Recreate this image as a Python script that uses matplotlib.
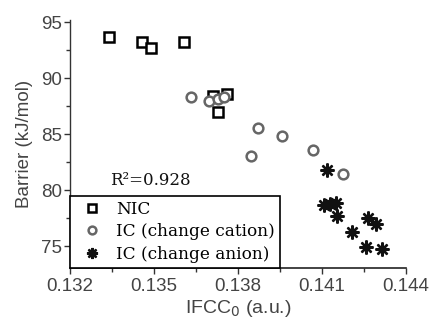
import matplotlib
matplotlib.use("Agg")
import matplotlib.pyplot as plt
from matplotlib.ticker import MultipleLocator

# Data
nic_x = [0.13339, 0.13458, 0.13489, 0.13608, 0.13711, 0.13761, 0.13729]
nic_y = [93.69, 93.19, 92.65, 93.24, 88.39, 88.57, 86.96]

cat_x = [0.13631, 0.13696, 0.13729, 0.13750, 0.13873, 0.13958, 0.13845, 0.14067, 0.14175]
cat_y = [88.28, 87.95, 88.13, 88.30, 85.51, 84.85, 83.04, 83.57, 81.43]

an_x = [0.14117, 0.14107, 0.14129, 0.14150, 0.14152, 0.14206, 0.14265, 0.14293, 0.14257, 0.14313]
an_y = [81.83, 78.66, 78.75, 78.84, 77.68, 76.28, 77.47, 76.96, 74.94, 74.71]

labels = ["NIC", "IC (change cation)", "IC (change anion)"]
x_ticks = [0.132, 0.135, 0.138, 0.141, 0.144]
y_ticks = [75, 80, 85, 90, 95]
r2_text = "R\u00b2=0.928"

fig = plt.figure(figsize=(4.33, 3.2), dpi=100)
ax = fig.add_axes([70/433, 52/320, 336/433, 248/320])

ax.plot(nic_x, nic_y, ls="none", marker="s", ms=6.5, mfc="white", mec="black", mew=1.8, label=labels[0])
ax.plot(cat_x, cat_y, ls="none", marker="o", ms=7, mfc="white", mec="#666666", mew=1.8, label=labels[1])
ax.plot(an_x, an_y, ls="none", marker=(8, 2, 0), ms=10, mec="#111111", mew=1.7, label=labels[2])

ax.set_xlim(0.132, 0.144)
ax.set_ylim(73.04, 95.18)
ax.set_xticks(x_ticks)
ax.set_xticklabels(["%.3f" % v for v in x_ticks])
ax.set_yticks(y_ticks)
ax.xaxis.set_minor_locator(MultipleLocator(0.0015))
ax.yaxis.set_minor_locator(MultipleLocator(2.5))

for s in ["top", "right"]:
    ax.spines[s].set_visible(False)
ax.spines["left"].set_color("#333333")
ax.spines["bottom"].set_color("#222222")
ax.spines["left"].set_linewidth(1.0)
ax.spines["bottom"].set_linewidth(1.2)

ax.tick_params(axis="both", which="major", direction="out", length=4, width=1, color="#333333",
               labelsize=13.5, labelcolor="#444444", labelfontfamily="Liberation Sans")
ax.tick_params(axis="both", which="minor", direction="out", length=3, width=1, color="#333333")
ax.tick_params(axis="y", pad=1.5)
ax.tick_params(axis="x", pad=3)

ax.set_ylabel("Barrier (kJ/mol)", fontsize=13.5, color="#444444", family="Liberation Sans", labelpad=6)
ax.set_xlabel("IFCC$_0$ (a.u.)", fontsize=14, color="#444444", family="Liberation Sans", labelpad=2.5)

leg = ax.legend(loc="lower left", bbox_to_anchor=(0, 0), borderaxespad=0, frameon=True, fancybox=False,
                edgecolor="black", framealpha=1, prop={"family": "DejaVu Serif", "size": 12.2},
                handletextpad=0.4, labelspacing=0.33, borderpad=0.3, handlelength=2.0,
                markerscale=0.8)
leg.get_frame().set_linewidth(1.2)

ax.text(0.12, 0.32, r2_text, transform=ax.transAxes, family="DejaVu Serif", fontsize=12,
        color="#111111", ha="left", va="bottom")

fig.savefig("out.png", dpi=100)
